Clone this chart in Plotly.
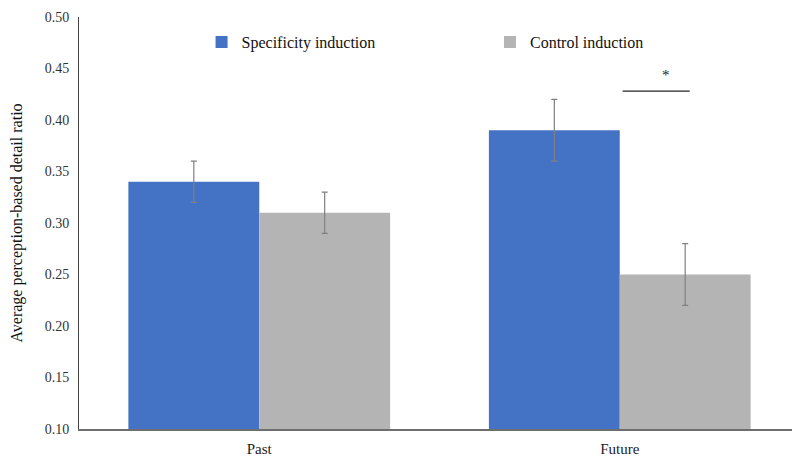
import plotly.graph_objects as go

categories = ["Past", "Future"]
spec_vals = [0.34, 0.39]
spec_err = [0.02, 0.03]
ctrl_vals = [0.31, 0.25]
ctrl_err = [0.02, 0.03]
y_ticks = [0.10, 0.15, 0.20, 0.25, 0.30, 0.35, 0.40, 0.45, 0.50]
y_labels = ["%.2f" % v for v in y_ticks]

font = "Liberation Serif"
err_style = dict(type="data", visible=True, color="#808080", thickness=1.2, width=3)

fig = go.Figure()
fig.add_bar(name="Specificity induction", x=categories, y=spec_vals, legend="legend",
            marker=dict(color="#4472C4", line=dict(width=0)),
            error_y=dict(array=spec_err, **err_style))
fig.add_bar(name="Control induction", x=categories, y=ctrl_vals, legend="legend2",
            marker=dict(color="#B4B4B4", line=dict(width=0)),
            error_y=dict(array=ctrl_err, **err_style))

# significance marker over Future bars
fig.add_shape(type="line", xref="x", yref="y", x0=1.008, x1=1.194, y0=0.428, y1=0.428,
              line=dict(color="#222222", width=1.2))
fig.add_annotation(x=1.127, y=0.444, xref="x", yref="y", text="*", showarrow=False,
                   font=dict(family=font, size=15, color="#222222"))

leg_common = dict(orientation="h", yanchor="middle", xanchor="left", y=0.939,
                  font=dict(family=font, size=16, color="#111111"),
                  bgcolor="rgba(0,0,0,0)")

# page body has an 8px margin, so the figure is sized to fill the 800x462 window
fig.update_layout(
    width=792, height=454,
    margin=dict(l=71, r=0, t=9, b=33),
    paper_bgcolor="white", plot_bgcolor="white",
    barmode="group", bargap=0.274, bargroupgap=0,
    font=dict(family=font, color="#222222"),
    showlegend=True,
    legend=dict(x=0.17, **leg_common),
    legend2=dict(x=0.57, **leg_common),
    xaxis=dict(showline=True, linecolor="#6e6e6e", linewidth=1.5, ticks="",
               ticklabelstandoff=5,
               tickfont=dict(family=font, size=15, color="#222222"),
               showgrid=False, automargin=False),
    yaxis=dict(range=[0.10, 0.50], tickvals=y_ticks, ticktext=y_labels,
               showline=True, linecolor="#444444", linewidth=1, ticks="",
               ticklabelstandoff=6, showgrid=False, zeroline=False, automargin=False,
               tickfont=dict(family=font, size=14, color="#333333"),
               title=dict(text="Average perception-based detail ratio", standoff=18,
                          font=dict(family=font, size=16, color="#111111"))),
)

fig.write_html("out.html")
